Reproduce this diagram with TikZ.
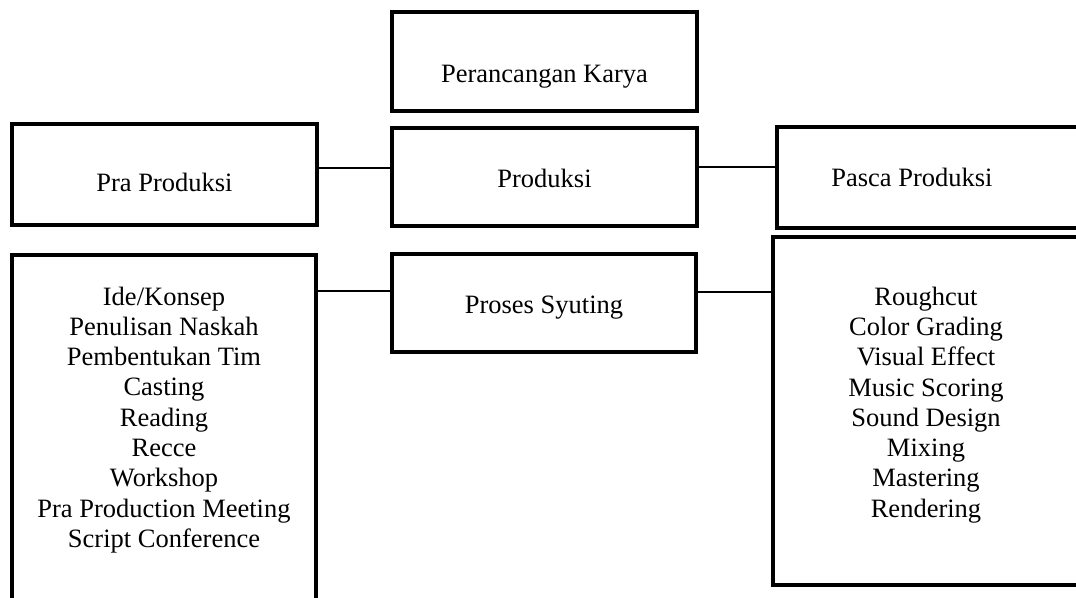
\documentclass[tikz,border=0pt]{standalone}
\usepackage{fontspec}
\setmainfont{Liberation Serif}
\usetikzlibrary{positioning}

\begin{document}
\begin{tikzpicture}[x=1pt, y=-1pt,
    box/.style={draw, line width=3.2pt, minimum width=305pt, inner sep=3pt, align=center,
        font=\fontsize{26.5pt}{30.3pt}\selectfont},
    link/.style={line width=1.3pt}]
    \useasboundingbox (0,0) rectangle (1076,597);

    % Top box
    \node[box, minimum height=99pt, text height=41pt, text depth=0pt] (karya) at (544.5,61.5) {Perancangan Karya};

    % Stage boxes
    \node[box, minimum height=101pt, text height=33pt, text depth=0pt] (pra) at (164.5,174.5) {Pra Produksi};
    \node[box, minimum height=98pt, text height=20pt, text depth=0pt] (produksi) at (544.5,177) {Produksi};
    \node[box, minimum width=303pt, minimum height=101pt, text height=17pt, text depth=0pt] (pasca) at (928.5,177.5) {\hspace*{-33pt}Pasca Produksi};

    % Detail boxes
    \node[box, minimum width=304pt, minimum height=370pt, text depth=46pt] (pralist) at (164,440)
        {Ide/Konsep\\Penulisan Naskah\\Pembentukan Tim\\Casting\\Reading\\Recce\\Workshop\\Pra Production Meeting\\Script Conference};
    \node[box, minimum width=304pt, minimum height=98pt, text height=20pt, text depth=0pt] (syuting) at (544,303) {Proses Syuting};
    \node[box, minimum width=306pt, minimum height=348pt, text depth=18pt] (pascalist) at (926,411)
        {Roughcut\\Color Grading\\Visual Effect\\Music Scoring\\Sound Design\\Mixing\\Mastering\\Rendering};

    % Connectors
    \draw[link] ([yshift=6.5pt]pra.east) -- ([yshift=9pt]produksi.west);
    \draw[link] ([yshift=10pt]produksi.east) -- ([yshift=10.5pt]pasca.west);
    \coordinate (praknot) at ([yshift=12pt]syuting.west);
    \coordinate (pascaknot) at ([yshift=11pt]syuting.east);
    \draw[link] (praknot) -- (praknot -| pralist.east);
    \draw[link] (pascaknot) -- (pascaknot -| pascalist.west);
\end{tikzpicture}
\end{document}
